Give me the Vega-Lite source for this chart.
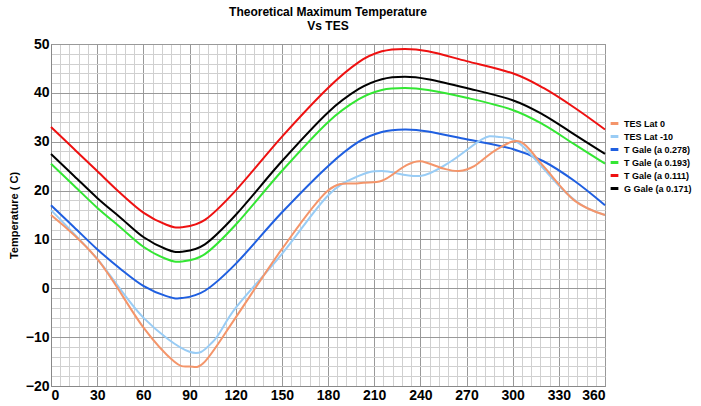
{
"$schema":"https://vega.github.io/schema/vega-lite/v6.json",
"width":701,"height":406,
"autosize":{"type":"fit","contains":"padding"},
"background":"white",
"padding":{"left":8,"top":6,"right":92,"bottom":4},
"title":{"text":["Theoretical Maximum Temperature","Vs TES"],"fontSize":12,"font":"Liberation Sans","fontWeight":"bold","offset":4,"lineHeight":14,"anchor":"middle"},
"config":{"view":{"stroke":"#888"}},
"datasets":{"d":[
{"s":"T Gale (a 0.111)","x":0,"y":33},{"s":"T Gale (a 0.111)","x":15,"y":28.5},{"s":"T Gale (a 0.111)","x":30,"y":24},{"s":"T Gale (a 0.111)","x":45,"y":19.5},{"s":"T Gale (a 0.111)","x":60,"y":15.5},{"s":"T Gale (a 0.111)","x":75,"y":13},{"s":"T Gale (a 0.111)","x":85,"y":12.5},{"s":"T Gale (a 0.111)","x":100,"y":14},{"s":"T Gale (a 0.111)","x":120,"y":20},{"s":"T Gale (a 0.111)","x":150,"y":31},{"s":"T Gale (a 0.111)","x":180,"y":41},{"s":"T Gale (a 0.111)","x":200,"y":46.3},{"s":"T Gale (a 0.111)","x":215,"y":48.5},{"s":"T Gale (a 0.111)","x":230,"y":49},{"s":"T Gale (a 0.111)","x":245,"y":48.5},{"s":"T Gale (a 0.111)","x":270,"y":46.5},{"s":"T Gale (a 0.111)","x":300,"y":44},{"s":"T Gale (a 0.111)","x":320,"y":41},{"s":"T Gale (a 0.111)","x":340,"y":37},{"s":"T Gale (a 0.111)","x":360,"y":32.5},
{"s":"G Gale (a 0.171)","x":0,"y":27.5},{"s":"G Gale (a 0.171)","x":15,"y":23},{"s":"G Gale (a 0.171)","x":30,"y":18.5},{"s":"G Gale (a 0.171)","x":45,"y":14.5},{"s":"G Gale (a 0.171)","x":60,"y":10.5},{"s":"G Gale (a 0.171)","x":75,"y":8},{"s":"G Gale (a 0.171)","x":85,"y":7.5},{"s":"G Gale (a 0.171)","x":100,"y":9},{"s":"G Gale (a 0.171)","x":120,"y":15},{"s":"G Gale (a 0.171)","x":150,"y":26},{"s":"G Gale (a 0.171)","x":180,"y":36},{"s":"G Gale (a 0.171)","x":200,"y":40.8},{"s":"G Gale (a 0.171)","x":215,"y":42.8},{"s":"G Gale (a 0.171)","x":230,"y":43.3},{"s":"G Gale (a 0.171)","x":245,"y":42.8},{"s":"G Gale (a 0.171)","x":270,"y":41},{"s":"G Gale (a 0.171)","x":300,"y":38.5},{"s":"G Gale (a 0.171)","x":320,"y":35.5},{"s":"G Gale (a 0.171)","x":340,"y":31.5},{"s":"G Gale (a 0.171)","x":360,"y":27.5},
{"s":"T Gale (a 0.193)","x":0,"y":25.5},{"s":"T Gale (a 0.193)","x":15,"y":21},{"s":"T Gale (a 0.193)","x":30,"y":16.5},{"s":"T Gale (a 0.193)","x":45,"y":12.5},{"s":"T Gale (a 0.193)","x":60,"y":8.5},{"s":"T Gale (a 0.193)","x":75,"y":6},{"s":"T Gale (a 0.193)","x":85,"y":5.5},{"s":"T Gale (a 0.193)","x":100,"y":7},{"s":"T Gale (a 0.193)","x":120,"y":13},{"s":"T Gale (a 0.193)","x":150,"y":24},{"s":"T Gale (a 0.193)","x":180,"y":34},{"s":"T Gale (a 0.193)","x":200,"y":38.7},{"s":"T Gale (a 0.193)","x":215,"y":40.6},{"s":"T Gale (a 0.193)","x":230,"y":41},{"s":"T Gale (a 0.193)","x":245,"y":40.6},{"s":"T Gale (a 0.193)","x":270,"y":39},{"s":"T Gale (a 0.193)","x":300,"y":36.5},{"s":"T Gale (a 0.193)","x":320,"y":33.5},{"s":"T Gale (a 0.193)","x":340,"y":29.5},{"s":"T Gale (a 0.193)","x":360,"y":25.5},
{"s":"T Gale (a 0.278)","x":0,"y":17},{"s":"T Gale (a 0.278)","x":15,"y":12.5},{"s":"T Gale (a 0.278)","x":30,"y":8},{"s":"T Gale (a 0.278)","x":45,"y":4},{"s":"T Gale (a 0.278)","x":60,"y":0.5},{"s":"T Gale (a 0.278)","x":75,"y":-1.6},{"s":"T Gale (a 0.278)","x":85,"y":-2},{"s":"T Gale (a 0.278)","x":100,"y":-0.5},{"s":"T Gale (a 0.278)","x":120,"y":5},{"s":"T Gale (a 0.278)","x":150,"y":15.5},{"s":"T Gale (a 0.278)","x":180,"y":25},{"s":"T Gale (a 0.278)","x":200,"y":30},{"s":"T Gale (a 0.278)","x":215,"y":32},{"s":"T Gale (a 0.278)","x":230,"y":32.5},{"s":"T Gale (a 0.278)","x":245,"y":32.1},{"s":"T Gale (a 0.278)","x":270,"y":30.5},{"s":"T Gale (a 0.278)","x":300,"y":28.5},{"s":"T Gale (a 0.278)","x":320,"y":26},{"s":"T Gale (a 0.278)","x":340,"y":22},{"s":"T Gale (a 0.278)","x":360,"y":17},
{"s":"TES Lat -10","x":0,"y":16},{"s":"TES Lat -10","x":30,"y":6},{"s":"TES Lat -10","x":60,"y":-6},{"s":"TES Lat -10","x":90,"y":-13},{"s":"TES Lat -10","x":105,"y":-11},{"s":"TES Lat -10","x":120,"y":-4},{"s":"TES Lat -10","x":150,"y":7},{"s":"TES Lat -10","x":180,"y":19},{"s":"TES Lat -10","x":200,"y":23},{"s":"TES Lat -10","x":215,"y":24},{"s":"TES Lat -10","x":240,"y":23},{"s":"TES Lat -10","x":260,"y":26},{"s":"TES Lat -10","x":280,"y":30.5},{"s":"TES Lat -10","x":290,"y":31},{"s":"TES Lat -10","x":305,"y":29.5},{"s":"TES Lat -10","x":330,"y":21},{"s":"TES Lat -10","x":345,"y":17},{"s":"TES Lat -10","x":360,"y":15},
{"s":"TES Lat 0","x":0,"y":15},{"s":"TES Lat 0","x":30,"y":6},{"s":"TES Lat 0","x":60,"y":-8},{"s":"TES Lat 0","x":80,"y":-15},{"s":"TES Lat 0","x":90,"y":-16},{"s":"TES Lat 0","x":100,"y":-15},{"s":"TES Lat 0","x":120,"y":-6},{"s":"TES Lat 0","x":150,"y":8},{"s":"TES Lat 0","x":180,"y":20},{"s":"TES Lat 0","x":200,"y":21.5},{"s":"TES Lat 0","x":215,"y":22},{"s":"TES Lat 0","x":230,"y":25},{"s":"TES Lat 0","x":240,"y":26},{"s":"TES Lat 0","x":255,"y":24.5},{"s":"TES Lat 0","x":265,"y":24},{"s":"TES Lat 0","x":275,"y":25},{"s":"TES Lat 0","x":290,"y":28.5},{"s":"TES Lat 0","x":305,"y":30},{"s":"TES Lat 0","x":320,"y":25},{"s":"TES Lat 0","x":340,"y":18},{"s":"TES Lat 0","x":360,"y":15}
]},
"data":{"name":"d"},
"mark":{"type":"line","interpolate":"cardinal","strokeWidth":2},
"encoding":{
"x":{"field":"x","type":"quantitative","scale":{"domain":[0,360],"nice":false},"title":null,
"axis":{"values":[0,6,12,18,24,30,36,42,48,54,60,66,72,78,84,90,96,102,108,114,120,126,132,138,144,150,156,162,168,174,180,186,192,198,204,210,216,222,228,234,240,246,252,258,264,270,276,282,288,294,300,306,312,318,324,330,336,342,348,354,360],
"labelExpr":"datum.value % 30 === 0 ? datum.label : ''","labelFontSize":14,"labelFontWeight":"bold","labelFont":"Liberation Sans","labelColor":"black","ticks":false,"domainColor":"#888",
"gridColor":{"condition":{"test":"datum.value % 30 === 0","value":"#999"},"value":"#d0d0d0"}}},
"y":{"field":"y","type":"quantitative","scale":{"domain":[-20,50],"nice":false},"title":"Temperature (  C)",
"axis":{"values":[-20,-18,-16,-14,-12,-10,-8,-6,-4,-2,0,2,4,6,8,10,12,14,16,18,20,22,24,26,28,30,32,34,36,38,40,42,44,46,48,50],
"labelExpr":"datum.value % 10 === 0 ? datum.label : ''","labelFontSize":14,"labelFontWeight":"bold","labelFont":"Liberation Sans","labelColor":"black","ticks":false,"domainColor":"#888","titleFontSize":11,"titleFont":"Liberation Sans","titleFontWeight":"bold","titlePadding":6,
"gridColor":{"condition":{"test":"datum.value % 10 === 0","value":"#999"},"value":"#d0d0d0"}}},
"color":{"field":"s","type":"nominal","sort":["TES Lat 0","TES Lat -10","T Gale (a 0.278)","T Gale (a 0.193)","T Gale (a 0.111)","G Gale (a 0.171)"],
"scale":{"domain":["TES Lat 0","TES Lat -10","T Gale (a 0.278)","T Gale (a 0.193)","T Gale (a 0.111)","G Gale (a 0.171)"],"range":["#f4956a","#99ccf5","#1f5fe0","#33e633","#ee1111","#000000"]},
"legend":{"title":null,"orient":"none","legendX":{"expr":"width+4"},"legendY":74,"symbolType":"stroke","symbolSize":60,"symbolStrokeWidth":3,"labelFontSize":9,"labelFont":"Liberation Sans","labelFontWeight":"bold","rowPadding":0}}
}
}
